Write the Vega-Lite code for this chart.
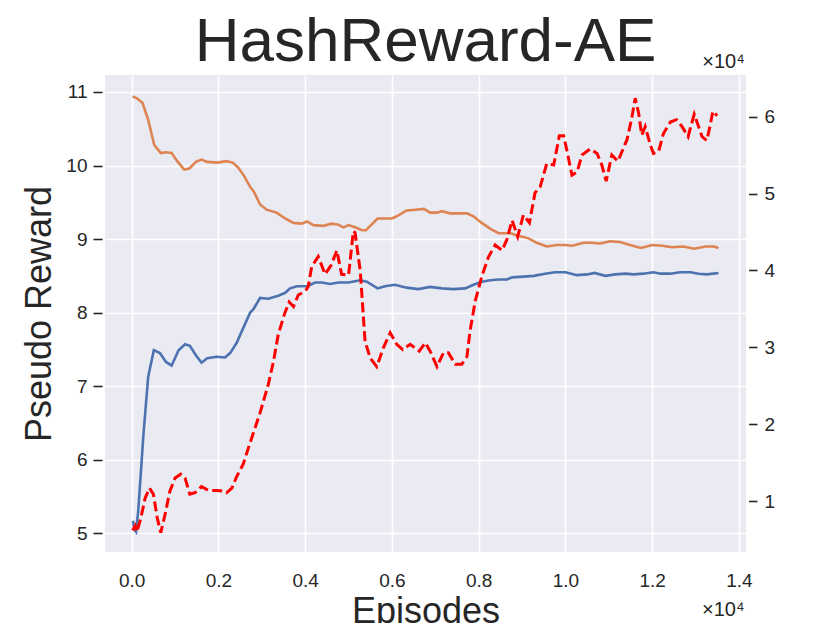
{
  "$schema": "https://vega.github.io/schema/vega-lite/v6.json",
  "width": 641,
  "height": 477,
  "autosize": "none",
  "padding": {"left": 105, "top": 75, "right": 84, "bottom": 71},
  "background": "white",
  "config": {
    "view": {"fill": "#EAEAF2", "stroke": null},
    "font": "Liberation Sans",
    "axis": {"labelFont": "Liberation Sans", "titleFont": "Liberation Sans", "labelColor": "#262626", "titleColor": "#262626", "labelFontSize": 19, "titleFontWeight": "normal"}
  },
  "title": {"text": "HashReward-AE", "fontSize": 62, "font": "Liberation Sans", "fontWeight": "normal", "color": "#262626", "anchor": "middle", "frame": "group", "baseline": "alphabetic", "offset": 11, "dy": 83},
  "datasets": {
    "pseudo": [
      {"episode": 30, "reward": 5.17, "series": "run 1"},
      {"episode": 60, "reward": 5.05, "series": "run 1"},
      {"episode": 100, "reward": 5.02, "series": "run 1"},
      {"episode": 150, "reward": 5.30, "series": "run 1"},
      {"episode": 270, "reward": 6.34, "series": "run 1"},
      {"episode": 380, "reward": 7.13, "series": "run 1"},
      {"episode": 510, "reward": 7.49, "series": "run 1"},
      {"episode": 650, "reward": 7.45, "series": "run 1"},
      {"episode": 790, "reward": 7.33, "series": "run 1"},
      {"episode": 920, "reward": 7.28, "series": "run 1"},
      {"episode": 1080, "reward": 7.49, "series": "run 1"},
      {"episode": 1230, "reward": 7.57, "series": "run 1"},
      {"episode": 1340, "reward": 7.55, "series": "run 1"},
      {"episode": 1480, "reward": 7.42, "series": "run 1"},
      {"episode": 1610, "reward": 7.32, "series": "run 1"},
      {"episode": 1740, "reward": 7.38, "series": "run 1"},
      {"episode": 1960, "reward": 7.40, "series": "run 1"},
      {"episode": 2150, "reward": 7.39, "series": "run 1"},
      {"episode": 2270, "reward": 7.45, "series": "run 1"},
      {"episode": 2420, "reward": 7.59, "series": "run 1"},
      {"episode": 2570, "reward": 7.79, "series": "run 1"},
      {"episode": 2730, "reward": 8.00, "series": "run 1"},
      {"episode": 2810, "reward": 8.05, "series": "run 1"},
      {"episode": 2960, "reward": 8.20, "series": "run 1"},
      {"episode": 3150, "reward": 8.19, "series": "run 1"},
      {"episode": 3380, "reward": 8.23, "series": "run 1"},
      {"episode": 3540, "reward": 8.27, "series": "run 1"},
      {"episode": 3650, "reward": 8.33, "series": "run 1"},
      {"episode": 3810, "reward": 8.36, "series": "run 1"},
      {"episode": 4040, "reward": 8.36, "series": "run 1"},
      {"episode": 4230, "reward": 8.41, "series": "run 1"},
      {"episode": 4380, "reward": 8.41, "series": "run 1"},
      {"episode": 4570, "reward": 8.39, "series": "run 1"},
      {"episode": 4770, "reward": 8.41, "series": "run 1"},
      {"episode": 5000, "reward": 8.41, "series": "run 1"},
      {"episode": 5270, "reward": 8.44, "series": "run 1"},
      {"episode": 5420, "reward": 8.42, "series": "run 1"},
      {"episode": 5670, "reward": 8.33, "series": "run 1"},
      {"episode": 5840, "reward": 8.36, "series": "run 1"},
      {"episode": 6070, "reward": 8.38, "series": "run 1"},
      {"episode": 6340, "reward": 8.34, "series": "run 1"},
      {"episode": 6610, "reward": 8.32, "series": "run 1"},
      {"episode": 6880, "reward": 8.35, "series": "run 1"},
      {"episode": 7150, "reward": 8.33, "series": "run 1"},
      {"episode": 7420, "reward": 8.32, "series": "run 1"},
      {"episode": 7690, "reward": 8.33, "series": "run 1"},
      {"episode": 7880, "reward": 8.38, "series": "run 1"},
      {"episode": 8070, "reward": 8.42, "series": "run 1"},
      {"episode": 8270, "reward": 8.44, "series": "run 1"},
      {"episode": 8460, "reward": 8.45, "series": "run 1"},
      {"episode": 8650, "reward": 8.45, "series": "run 1"},
      {"episode": 8770, "reward": 8.48, "series": "run 1"},
      {"episode": 9030, "reward": 8.49, "series": "run 1"},
      {"episode": 9270, "reward": 8.50, "series": "run 1"},
      {"episode": 9530, "reward": 8.53, "series": "run 1"},
      {"episode": 9760, "reward": 8.55, "series": "run 1"},
      {"episode": 10000, "reward": 8.55, "series": "run 1"},
      {"episode": 10270, "reward": 8.51, "series": "run 1"},
      {"episode": 10500, "reward": 8.52, "series": "run 1"},
      {"episode": 10670, "reward": 8.54, "series": "run 1"},
      {"episode": 10920, "reward": 8.50, "series": "run 1"},
      {"episode": 11150, "reward": 8.52, "series": "run 1"},
      {"episode": 11380, "reward": 8.53, "series": "run 1"},
      {"episode": 11570, "reward": 8.52, "series": "run 1"},
      {"episode": 11800, "reward": 8.53, "series": "run 1"},
      {"episode": 12030, "reward": 8.55, "series": "run 1"},
      {"episode": 12190, "reward": 8.53, "series": "run 1"},
      {"episode": 12420, "reward": 8.53, "series": "run 1"},
      {"episode": 12650, "reward": 8.55, "series": "run 1"},
      {"episode": 12880, "reward": 8.55, "series": "run 1"},
      {"episode": 13070, "reward": 8.53, "series": "run 1"},
      {"episode": 13260, "reward": 8.52, "series": "run 1"},
      {"episode": 13530, "reward": 8.54, "series": "run 1"},
      {"episode": 20, "reward": 10.94, "series": "run 2"},
      {"episode": 130, "reward": 10.91, "series": "run 2"},
      {"episode": 250, "reward": 10.85, "series": "run 2"},
      {"episode": 380, "reward": 10.62, "series": "run 2"},
      {"episode": 520, "reward": 10.28, "series": "run 2"},
      {"episode": 670, "reward": 10.17, "series": "run 2"},
      {"episode": 780, "reward": 10.18, "series": "run 2"},
      {"episode": 920, "reward": 10.17, "series": "run 2"},
      {"episode": 1050, "reward": 10.06, "series": "run 2"},
      {"episode": 1210, "reward": 9.945, "series": "run 2"},
      {"episode": 1330, "reward": 9.96, "series": "run 2"},
      {"episode": 1480, "reward": 10.05, "series": "run 2"},
      {"episode": 1610, "reward": 10.08, "series": "run 2"},
      {"episode": 1740, "reward": 10.05, "series": "run 2"},
      {"episode": 1980, "reward": 10.04, "series": "run 2"},
      {"episode": 2180, "reward": 10.06, "series": "run 2"},
      {"episode": 2330, "reward": 10.04, "series": "run 2"},
      {"episode": 2460, "reward": 9.97, "series": "run 2"},
      {"episode": 2590, "reward": 9.86, "series": "run 2"},
      {"episode": 2730, "reward": 9.71, "series": "run 2"},
      {"episode": 2810, "reward": 9.65, "series": "run 2"},
      {"episode": 2960, "reward": 9.47, "series": "run 2"},
      {"episode": 3110, "reward": 9.40, "series": "run 2"},
      {"episode": 3340, "reward": 9.36, "series": "run 2"},
      {"episode": 3540, "reward": 9.28, "series": "run 2"},
      {"episode": 3730, "reward": 9.22, "series": "run 2"},
      {"episode": 3920, "reward": 9.21, "series": "run 2"},
      {"episode": 4040, "reward": 9.24, "series": "run 2"},
      {"episode": 4190, "reward": 9.19, "series": "run 2"},
      {"episode": 4420, "reward": 9.18, "series": "run 2"},
      {"episode": 4610, "reward": 9.21, "series": "run 2"},
      {"episode": 4750, "reward": 9.20, "series": "run 2"},
      {"episode": 4880, "reward": 9.16, "series": "run 2"},
      {"episode": 5000, "reward": 9.19, "series": "run 2"},
      {"episode": 5150, "reward": 9.16, "series": "run 2"},
      {"episode": 5310, "reward": 9.12, "series": "run 2"},
      {"episode": 5400, "reward": 9.12, "series": "run 2"},
      {"episode": 5500, "reward": 9.18, "series": "run 2"},
      {"episode": 5670, "reward": 9.28, "series": "run 2"},
      {"episode": 6000, "reward": 9.28, "series": "run 2"},
      {"episode": 6110, "reward": 9.31, "series": "run 2"},
      {"episode": 6340, "reward": 9.39, "series": "run 2"},
      {"episode": 6540, "reward": 9.40, "series": "run 2"},
      {"episode": 6740, "reward": 9.41, "series": "run 2"},
      {"episode": 6880, "reward": 9.36, "series": "run 2"},
      {"episode": 7040, "reward": 9.36, "series": "run 2"},
      {"episode": 7150, "reward": 9.38, "series": "run 2"},
      {"episode": 7340, "reward": 9.35, "series": "run 2"},
      {"episode": 7530, "reward": 9.35, "series": "run 2"},
      {"episode": 7730, "reward": 9.35, "series": "run 2"},
      {"episode": 7880, "reward": 9.31, "series": "run 2"},
      {"episode": 8070, "reward": 9.22, "series": "run 2"},
      {"episode": 8270, "reward": 9.14, "series": "run 2"},
      {"episode": 8460, "reward": 9.08, "series": "run 2"},
      {"episode": 8730, "reward": 9.08, "series": "run 2"},
      {"episode": 8960, "reward": 9.04, "series": "run 2"},
      {"episode": 9150, "reward": 9.01, "series": "run 2"},
      {"episode": 9340, "reward": 8.95, "series": "run 2"},
      {"episode": 9570, "reward": 8.90, "series": "run 2"},
      {"episode": 9800, "reward": 8.92, "series": "run 2"},
      {"episode": 10000, "reward": 8.92, "series": "run 2"},
      {"episode": 10160, "reward": 8.91, "series": "run 2"},
      {"episode": 10420, "reward": 8.95, "series": "run 2"},
      {"episode": 10610, "reward": 8.95, "series": "run 2"},
      {"episode": 10800, "reward": 8.94, "series": "run 2"},
      {"episode": 11030, "reward": 8.97, "series": "run 2"},
      {"episode": 11260, "reward": 8.96, "series": "run 2"},
      {"episode": 11490, "reward": 8.92, "series": "run 2"},
      {"episode": 11740, "reward": 8.88, "series": "run 2"},
      {"episode": 12000, "reward": 8.92, "series": "run 2"},
      {"episode": 12230, "reward": 8.91, "series": "run 2"},
      {"episode": 12460, "reward": 8.89, "series": "run 2"},
      {"episode": 12720, "reward": 8.90, "series": "run 2"},
      {"episode": 12970, "reward": 8.87, "series": "run 2"},
      {"episode": 13230, "reward": 8.90, "series": "run 2"},
      {"episode": 13420, "reward": 8.90, "series": "run 2"},
      {"episode": 13530, "reward": 8.88, "series": "run 2"}
    ],
    "hash": [
      {"episode": 20, "value": 6200},
      {"episode": 80, "value": 6800},
      {"episode": 120, "value": 6000},
      {"episode": 210, "value": 7800},
      {"episode": 310, "value": 10400},
      {"episode": 410, "value": 11700},
      {"episode": 500, "value": 10900},
      {"episode": 590, "value": 7800},
      {"episode": 670, "value": 5900},
      {"episode": 770, "value": 8300},
      {"episode": 880, "value": 11300},
      {"episode": 1000, "value": 13000},
      {"episode": 1130, "value": 13500},
      {"episode": 1230, "value": 13000},
      {"episode": 1340, "value": 10900},
      {"episode": 1460, "value": 11100},
      {"episode": 1610, "value": 11900},
      {"episode": 1770, "value": 11400},
      {"episode": 1960, "value": 11400},
      {"episode": 2130, "value": 11300},
      {"episode": 2190, "value": 11100},
      {"episode": 2310, "value": 11700},
      {"episode": 2420, "value": 13200},
      {"episode": 2570, "value": 14800},
      {"episode": 2730, "value": 17600},
      {"episode": 2960, "value": 21500},
      {"episode": 3150, "value": 25200},
      {"episode": 3270, "value": 28200},
      {"episode": 3380, "value": 31700},
      {"episode": 3520, "value": 34300},
      {"episode": 3630, "value": 35900},
      {"episode": 3730, "value": 35300},
      {"episode": 3840, "value": 36800},
      {"episode": 4000, "value": 37300},
      {"episode": 4070, "value": 37900},
      {"episode": 4150, "value": 40500},
      {"episode": 4300, "value": 41800},
      {"episode": 4460, "value": 39500},
      {"episode": 4600, "value": 40700},
      {"episode": 4730, "value": 42600},
      {"episode": 4840, "value": 39500},
      {"episode": 5000, "value": 39400},
      {"episode": 5110, "value": 45100},
      {"episode": 5150, "value": 44900},
      {"episode": 5270, "value": 39900},
      {"episode": 5380, "value": 30800},
      {"episode": 5500, "value": 28600},
      {"episode": 5650, "value": 27500},
      {"episode": 5800, "value": 29900},
      {"episode": 5960, "value": 31900},
      {"episode": 6110, "value": 30400},
      {"episode": 6250, "value": 29700},
      {"episode": 6420, "value": 30400},
      {"episode": 6630, "value": 29500},
      {"episode": 6770, "value": 30600},
      {"episode": 6880, "value": 29500},
      {"episode": 7040, "value": 27500},
      {"episode": 7190, "value": 29300},
      {"episode": 7300, "value": 29300},
      {"episode": 7460, "value": 27800},
      {"episode": 7610, "value": 27800},
      {"episode": 7730, "value": 28800},
      {"episode": 7800, "value": 32100},
      {"episode": 7920, "value": 36000},
      {"episode": 8070, "value": 39200},
      {"episode": 8230, "value": 41800},
      {"episode": 8380, "value": 43300},
      {"episode": 8540, "value": 42600},
      {"episode": 8650, "value": 44000},
      {"episode": 8770, "value": 46500},
      {"episode": 8900, "value": 44400},
      {"episode": 9030, "value": 47200},
      {"episode": 9170, "value": 46200},
      {"episode": 9300, "value": 50100},
      {"episode": 9420, "value": 50900},
      {"episode": 9570, "value": 53900},
      {"episode": 9730, "value": 53700},
      {"episode": 9860, "value": 57500},
      {"episode": 9960, "value": 57500},
      {"episode": 10030, "value": 55700},
      {"episode": 10150, "value": 52400},
      {"episode": 10270, "value": 52800},
      {"episode": 10380, "value": 55000},
      {"episode": 10570, "value": 55800},
      {"episode": 10730, "value": 55200},
      {"episode": 10840, "value": 53700},
      {"episode": 10940, "value": 51600},
      {"episode": 11070, "value": 55000},
      {"episode": 11210, "value": 54200},
      {"episode": 11420, "value": 57000},
      {"episode": 11530, "value": 59800},
      {"episode": 11610, "value": 62400},
      {"episode": 11690, "value": 60400},
      {"episode": 11760, "value": 57600},
      {"episode": 11840, "value": 58700},
      {"episode": 11960, "value": 56300},
      {"episode": 12030, "value": 55200},
      {"episode": 12150, "value": 55500},
      {"episode": 12260, "value": 57800},
      {"episode": 12420, "value": 59300},
      {"episode": 12560, "value": 59600},
      {"episode": 12690, "value": 58700},
      {"episode": 12830, "value": 57400},
      {"episode": 12900, "value": 58900},
      {"episode": 12970, "value": 60300},
      {"episode": 13070, "value": 58700},
      {"episode": 13150, "value": 57400},
      {"episode": 13260, "value": 56900},
      {"episode": 13340, "value": 58900},
      {"episode": 13400, "value": 60700},
      {"episode": 13500, "value": 60100}
    ]
  },
  "layer": [
    {
      "data": {"name": "pseudo"},
      "mark": {"type": "line", "strokeWidth": 2.6},
      "encoding": {
        "x": {
          "field": "episode", "type": "quantitative",
          "scale": {"domain": [-616, 14164], "nice": false, "zero": false},
          "axis": {
            "values": [0, 2000, 4000, 6000, 8000, 10000, 12000, 14000],
            "labelExpr": "format(datum.value / 10000, '.1f')",
            "grid": true, "gridColor": "white", "gridWidth": 1.6,
            "ticks": false, "tickSize": 0, "domain": false,
            "labelBaseline": "alphabetic", "labelPadding": 34,
            "title": "Episodes", "titleFontSize": 36,
            "titleX": 320.5, "titleY": 70.5, "titleBaseline": "alphabetic", "titleAlign": "center"
          }
        },
        "y": {
          "field": "reward", "type": "quantitative",
          "scale": {"domain": [4.746, 11.231], "nice": false, "zero": false},
          "axis": {
            "values": [5, 6, 7, 8, 9, 10, 11],
            "grid": true, "gridColor": "white", "gridWidth": 1.6,
            "ticks": true, "tickSize": 9, "tickWidth": 1.6, "tickColor": "#262626",
            "offset": 3, "domain": false, "labelPadding": 6,
            "title": "Pseudo Reward", "titleFontSize": 36,
            "titleX": -52, "titleY": 238.5, "titleAngle": -90, "titleBaseline": "alphabetic", "titleAlign": "center"
          }
        },
        "color": {
          "field": "series", "type": "nominal",
          "scale": {"domain": ["run 1", "run 2"], "range": ["#4C72B0", "#DD8452"]},
          "legend": null
        }
      }
    },
    {
      "data": {"name": "hash"},
      "mark": {"type": "line", "color": "#FF0000", "strokeWidth": 3, "strokeDash": [10, 4.4]},
      "encoding": {
        "x": {
          "field": "episode", "type": "quantitative",
          "scale": {"domain": [-616, 14164], "nice": false, "zero": false},
          "axis": {
            "orient": "top", "labels": false, "ticks": false, "domain": false, "grid": false,
            "title": "×10⁴", "titleFontSize": 20, "titleX": 639, "titleY": 540,
            "titleAlign": "right", "titleBaseline": "alphabetic", "titleAngle": 0
          }
        },
        "y": {
          "field": "value", "type": "quantitative",
          "scale": {"domain": [3390, 65410], "nice": false, "zero": false},
          "axis": {
            "orient": "right",
            "values": [10000, 20000, 30000, 40000, 50000, 60000],
            "labelExpr": "format(datum.value / 10000, 'd')",
            "grid": false, "domain": false,
            "ticks": true, "tickSize": 8.4, "tickWidth": 1.6, "tickColor": "#262626",
            "offset": 2.6, "labelPadding": 7,
            "title": "×10⁴", "titleFontSize": 20, "titleAngle": 0,
            "titleX": -4.3, "titleY": -8, "titleAlign": "right", "titleBaseline": "alphabetic"
          }
        }
      }
    }
  ],
  "resolve": {"scale": {"x": "independent", "y": "independent"}}
}
